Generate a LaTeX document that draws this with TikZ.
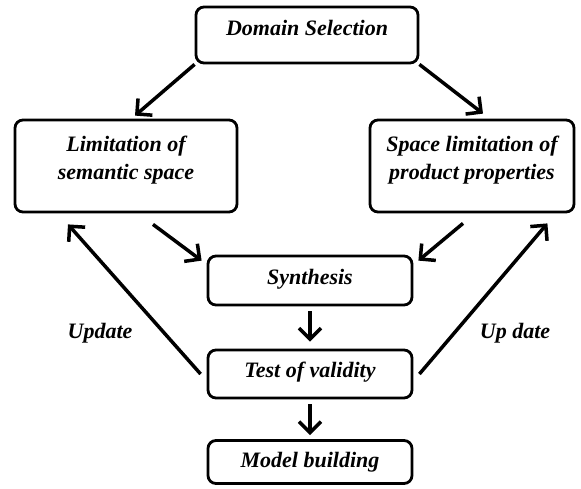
\documentclass[tikz,border=0pt]{standalone}
\usepackage{fontspec}
\setmainfont{Liberation Serif}
\usepackage{tikz}
\usetikzlibrary{arrows.meta}
\tikzset{%
    blk/.style={draw,rounded corners=8pt,line width=2.8pt,align=center,inner sep=0pt,
        font=\fontsize{22}{28}\selectfont\bfseries\itshape},
    lbl/.style={font=\fontsize{22}{28}\selectfont\bfseries\itshape}
}

\begin{document}
\begin{tikzpicture}[
                x=1pt,y=-1pt,
                arr/.style={line width=3.5pt,-{Straight Barb[length=11pt,width=22pt]}}
            ]
            \useasboundingbox (0,0) rectangle (581,488);
            \node[blk,minimum width=222pt,minimum height=56pt,text depth=14pt] (dom) at (307,35) {Domain Selection};
            \node[blk,minimum width=222pt,minimum height=92pt,text depth=17pt] (lim) at (126,166) {Limitation of\\semantic space};
            \node[blk,minimum width=204pt,minimum height=92pt,text depth=17pt] (spl) at (472,166) {Space limitation of\\product properties};
            \node[blk,minimum width=204pt,minimum height=49pt,text depth=8pt] (syn) at (310,280.5) {Synthesis};
            \node[blk,minimum width=204pt,minimum height=48pt,text depth=8pt] (tov) at (310,374) {Test of validity};
            \node[blk,minimum width=204pt,minimum height=43pt] (mod) at (310,462) {Model building};
            \node[lbl] (upl) at (100,333) {Update};
            \node[lbl] (upr) at (515,333) {Up date};

            \draw[arr] (dom.south west) -- ([xshift=9pt,yshift=3pt]lim.north);
            \draw[arr] (dom.south east) -- ([xshift=11pt,yshift=5pt]spl.north);
            \draw[arr] ([xshift=27pt,yshift=-11pt]lim.south) -- ([xshift=-5pt,yshift=-6pt]syn.north west);
            \draw[arr] ([xshift=-9pt,yshift=-10pt]spl.south) -- ([xshift=5pt,yshift=-6pt]syn.north east);
            \draw[arr,shorten <=5pt,shorten >=7pt] (syn) -- (tov);
            \draw[arr,shorten <=5pt,shorten >=4pt] (tov) -- (mod);
            \draw[arr] ([xshift=-6pt]tov.west) -- ([xshift=-58pt,yshift=-11pt]lim.south);
            \draw[arr] ([xshift=6pt]tov.east) -- ([xshift=-28pt,yshift=-10pt]spl.south east);
        \end{tikzpicture}
\end{document}
